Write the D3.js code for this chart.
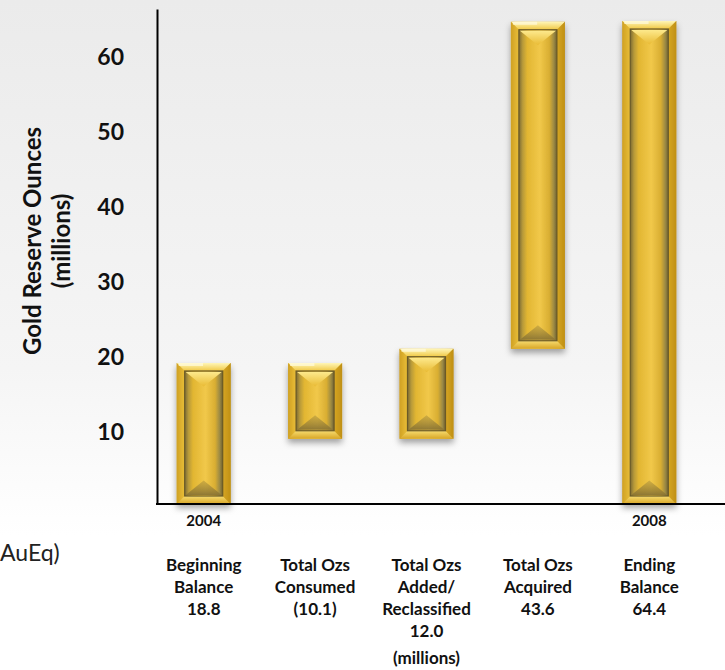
<!DOCTYPE html>
<html>
<head>
<meta charset="utf-8">
<script src="https://cdn.jsdelivr.net/npm/d3@7"></script>
<style>
  html, body { margin: 0; padding: 0; background: #fff; }
  svg { display: block; }
</style>
</head>
<body>
<div id="chart"></div>
<script>
// Gold reserve waterfall, 2004 -> 2008 (millions of ounces)
const categories = ["begin", "consumed", "added", "acquired", "ending"];
const nameLines = [
  ["Beginning", "Balance"],
  ["Total Ozs", "Consumed"],
  ["Total Ozs", "Added/", "Reclassified"],
  ["Total Ozs", "Acquired"],
  ["Ending", "Balance"]
];
const values = [18.8, -10.1, 12.0, 43.6, 64.4];
const isTotal = [true, false, false, false, true];
const years = ["2004", "", "", "", "2008"];
const yTicks = [10, 20, 30, 40, 50, 60];
const yTitle = ["Gold Reserve Ounces", "(millions)"];
const unitNote = "(millions)";
const sideNote = "AuEq)";

const W = 725, H = 670;
const FONT = "Lato, 'Open Sans', 'DejaVu Sans', sans-serif";

const svg = d3.select("#chart").append("svg")
  .attr("width", W).attr("height", H);

const defs = svg.append("defs");

// page background: soft grey at the top fading to white
const bg = defs.append("linearGradient").attr("id", "bg")
  .attr("x1", 0).attr("y1", 0).attr("x2", 0).attr("y2", 1);
bg.append("stop").attr("offset", "0%").attr("stop-color", "#ebebeb");
bg.append("stop").attr("offset", "55%").attr("stop-color", "#f5f5f5");
bg.append("stop").attr("offset", "80%").attr("stop-color", "#ffffff");
svg.append("rect").attr("width", W).attr("height", H).attr("fill", "url(#bg)");

function grad(id, stops, vertical) {
  const g = defs.append("linearGradient").attr("id", id)
    .attr("x1", 0).attr("y1", 0)
    .attr("x2", vertical ? 0 : 1).attr("y2", vertical ? 1 : 0);
  stops.forEach(([o, c, a]) => g.append("stop").attr("offset", o)
    .attr("stop-color", c).attr("stop-opacity", a == null ? 1 : a));
}
grad("goldOuter", [["0%", "#c0901a"], ["12%", "#eec540"], ["50%", "#f6d458"], ["85%", "#e6b82e"], ["100%", "#b5870f"]]);
grad("goldTop", [["0%", "#fff6b8"], ["100%", "#f0c844"]], true);
grad("goldBottom", [["0%", "#f7dc70"], ["100%", "#d8a626"]], true);
grad("goldInner", [["0%", "#7c6b34"], ["10%", "#b89a3a"], ["22%", "#e2b632"], ["55%", "#f1c84a"], ["80%", "#d9ae32"], ["92%", "#9c8a44"], ["100%", "#6e6030"]]);
grad("bevelTop", [["0%", "#fde98c"], ["100%", "#e9bb34"]], true);
grad("bevelBottom", [["0%", "#b89a3c", 0.6], ["100%", "#8a7434", 0.95]], true);

const shadow = defs.append("filter").attr("id", "shadow")
  .attr("x", "-30%").attr("y", "-10%").attr("width", "160%").attr("height", "130%");
shadow.append("feDropShadow").attr("dx", 0).attr("dy", 4)
  .attr("stdDeviation", 3).attr("flood-color", "#000").attr("flood-opacity", 0.35);

// scales
const x = d3.scaleBand().domain(categories).range([148, 705])
  .paddingInner(0.515).paddingOuter(0.2575);
const y = d3.scaleLinear().domain([0, 66]).range([504, 9]);

// waterfall spans
let running = 0;
const bars = categories.map((c, i) => {
  let lo, hi;
  if (isTotal[i]) { lo = 0; hi = values[i]; running = values[i]; }
  else {
    const next = running + values[i];
    lo = Math.min(running, next); hi = Math.max(running, next);
    running = next;
  }
  return { key: c, lo, hi, i };
});

// gold bars with bevelled frame
const barG = svg.append("g");
bars.forEach(b => {
  const bx = x(b.key), bw = x.bandwidth();
  const by = y(b.hi), bh = y(b.lo) - y(b.hi);
  const g = barG.append("g").attr("filter", "url(#shadow)");
  const f = 8;
  const ix = bx + f, iy = by + f, iw = bw - 2 * f, ih = bh - 2 * f;
  g.append("rect").attr("x", bx).attr("y", by).attr("width", bw).attr("height", bh)
    .attr("fill", "url(#goldOuter)");
  // frame bands
  g.append("polygon").attr("fill", "url(#goldTop)")
    .attr("points", [[bx, by], [bx + bw, by], [ix + iw, iy], [ix, iy]].join(" "));
  g.append("polygon").attr("fill", "url(#goldBottom)")
    .attr("points", [[bx, by + bh], [bx + bw, by + bh], [ix + iw, iy + ih], [ix, iy + ih]].join(" "));
  g.append("polygon").attr("fill", "#dcae2c").attr("opacity", 0.55)
    .attr("points", [[bx, by], [ix, iy], [ix, iy + ih], [bx, by + bh]].join(" "));
  g.append("polygon").attr("fill", "#c8981c").attr("opacity", 0.55)
    .attr("points", [[bx + bw, by], [ix + iw, iy], [ix + iw, iy + ih], [bx + bw, by + bh]].join(" "));
  // top-left glint
  g.append("rect").attr("x", bx + 2).attr("y", by).attr("width", bw * 0.45).attr("height", 3)
    .attr("fill", "#fffbe0").attr("opacity", 0.7);
  // inner panel
  g.append("rect").attr("x", ix).attr("y", iy).attr("width", iw).attr("height", ih)
    .attr("fill", "url(#goldInner)").attr("stroke", "#6a5a28").attr("stroke-width", 1.2);
  const d = Math.min(iw * 0.38, ih / 2 - 2);
  g.append("polygon").attr("fill", "url(#bevelTop)")
    .attr("points", [[ix + 1, iy + 1], [ix + iw - 1, iy + 1], [ix + iw / 2, iy + 1 + d]].join(" "));
  g.append("polygon").attr("fill", "url(#bevelBottom)")
    .attr("points", [[ix + 1, iy + ih - 1], [ix + iw - 1, iy + ih - 1], [ix + iw / 2, iy + ih - 1 - d]].join(" "));
});

// axes
const yAxis = d3.axisLeft(y).tickValues(yTicks).tickSize(0).tickPadding(33)
  .tickFormat(d3.format("d"));
const ya = svg.append("g").attr("transform", `translate(157,0)`).call(yAxis);
ya.select(".domain").attr("stroke", "#000").attr("stroke-width", 2);
ya.selectAll("text").attr("font-family", FONT).attr("font-weight", 700)
  .attr("font-size", 23).attr("fill", "#111").attr("dy", "0.45em");

svg.append("line").attr("x1", 156).attr("x2", W).attr("y1", y(0)).attr("y2", y(0))
  .attr("stroke", "#000").attr("stroke-width", 2);

// y-axis title
const yt = svg.append("g").attr("font-family", FONT).attr("font-weight", 700)
  .attr("font-size", 24).attr("fill", "#111").attr("text-anchor", "middle");
yt.append("text").attr("transform", "translate(41,241) rotate(-90)").text(yTitle[0]);
yt.append("text").attr("transform", "translate(70,241) rotate(-90)").text(yTitle[1]);

// year labels under the balance bars
svg.append("g").selectAll("text").data(categories.filter((c, i) => years[i]))
  .join("text")
  .attr("x", c => x(c) + x.bandwidth() / 2).attr("y", 526)
  .attr("text-anchor", "middle").attr("font-family", FONT).attr("font-weight", 700)
  .attr("font-size", 15).attr("fill", "#111")
  .text(c => years[categories.indexOf(c)]);

// category labels with their values
const fmt = v => v < 0 ? `(${d3.format(".1f")(-v)})` : d3.format(".1f")(v);
const lab = svg.append("g").attr("font-family", FONT).attr("font-weight", 700)
  .attr("font-size", 17).attr("fill", "#111").attr("text-anchor", "middle");
categories.forEach((c, i) => {
  const t = lab.append("text").attr("x", x(c) + x.bandwidth() / 2).attr("y", 571);
  nameLines[i].concat([fmt(values[i])]).forEach((s, k) => {
    t.append("tspan").attr("x", x(c) + x.bandwidth() / 2).attr("dy", k === 0 ? 0 : 22).text(s);
  });
});
lab.append("text").attr("x", x("added") + x.bandwidth() / 2).attr("y", 664).text(unitNote);

// cut-off side note on the left edge
svg.append("text").attr("x", 0).attr("y", 561).attr("font-family", FONT)
  .attr("font-size", 23).attr("fill", "#222").text(sideNote);
</script>
</body>
</html>
